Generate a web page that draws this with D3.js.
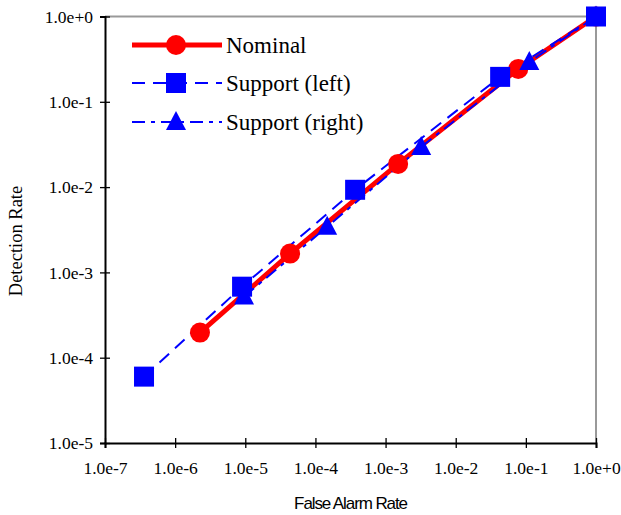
<!DOCTYPE html>
<html>
<head>
<meta charset="utf-8">
<script src="https://cdn.jsdelivr.net/npm/d3@7"></script>
<style>
  body { margin: 0; background: #fff; }
  svg { display: block; }
</style>
</head>
<body>
<svg id="chart" width="621" height="515"></svg>
<script>
// values (false alarm rate, detection rate)
const nominalX = [2.26e-6, 4.35e-5, 1.51e-3, 7.8e-2, 1];
const nominalY = [1.97e-4, 1.66e-3, 1.87e-2, 0.243, 1];
const leftX = [3.6e-7, 9.0e-6, 3.68e-4, 4.3e-2, 1];
const leftY = [6.0e-5, 6.8e-4, 9.3e-3, 0.196, 1];
const rightX = [9.6e-6, 1.47e-4, 3.22e-3, 0.112, 1];
const rightY = [5.2e-4, 3.43e-3, 2.96e-2, 0.293, 1];
const xTicks = [1e-7, 1e-6, 1e-5, 1e-4, 1e-3, 1e-2, 1e-1, 1];
const yTicks = [1e-5, 1e-4, 1e-3, 1e-2, 1e-1, 1];
const seriesNames = ["Nominal", "Support (left)", "Support (right)"];

let svg = d3.select("#chart");
let L = 105, R = 596, T = 16.5, B = 443;
let serif = "'Liberation Serif', 'Times New Roman', serif";

let x = d3.scaleLog().domain([1e-7, 1]).range([L, R]);
let y = d3.scaleLog().domain([1e-5, 1]).range([B, T]);
let fmt = d3.format(".1e");

let zip = (xs, ys) => xs.map((v, i) => [v, ys[i]]);
let series = [
  { name: seriesNames[0], pts: zip(nominalX, nominalY), color: "#ff0000", width: 5, dash: null, mark: "circle" },
  { name: seriesNames[1], pts: zip(leftX, leftY), color: "#0000ff", width: 2, dash: "13,8", mark: "square" },
  { name: seriesNames[2], pts: zip(rightX, rightY), color: "#0000ff", width: 2, dash: "13,6,4,6", mark: "triangle" }
];

// gray top/right frame
svg.append("path")
  .attr("d", `M${L},${T}H${R}V${B}`)
  .attr("fill", "none")
  .attr("stroke", "#999")
  .attr("stroke-width", 2);

let xAxis = svg.append("g")
  .attr("transform", `translate(0,${B})`)
  .call(d3.axisBottom(x).tickValues(xTicks).tickFormat(fmt).tickSize(5));
let yAxis = svg.append("g")
  .attr("transform", `translate(${L},0)`)
  .call(d3.axisLeft(y).tickValues(yTicks).tickFormat(fmt).tickSize(5));

[xAxis, yAxis].forEach(g => {
  g.select(".domain").attr("stroke", "#000").attr("stroke-width", 2);
  g.selectAll(".tick line").attr("stroke", "#000").attr("stroke-width", 1.3);
  g.selectAll(".tick text")
    .style("font-family", serif)
    .style("font-size", "17.5px")
    .attr("fill", "#000");
});
xAxis.selectAll(".tick line").attr("y1", -5).attr("y2", 5);
xAxis.selectAll(".tick text").attr("y", 31).attr("dy", 0);
yAxis.selectAll(".tick line").attr("x1", -5).attr("x2", 5);
yAxis.selectAll(".tick text").attr("x", -12).attr("dy", "0.33em");

// axis titles
svg.append("text")
  .attr("x", (L + R) / 2)
  .attr("y", 509)
  .attr("text-anchor", "middle")
  .style("font-family", "'Liberation Sans', Arial, sans-serif")
  .style("font-size", "17px")
  .attr("letter-spacing", -1.1)
  .text("False Alarm Rate");
svg.append("text")
  .attr("transform", "translate(22,241) rotate(-90)")
  .attr("text-anchor", "middle")
  .style("font-family", serif)
  .style("font-size", "18.5px")
  .text("Detection Rate");

let line = d3.line().x(d => x(d[0])).y(d => y(d[1]));

let drawMark = (g, kind, color) => {
  if (kind === "circle") {
    g.append("circle").attr("r", 10).attr("fill", color);
  } else if (kind === "square") {
    g.append("rect").attr("x", -10).attr("y", -10).attr("width", 20).attr("height", 20).attr("fill", color);
  } else {
    g.append("path").attr("d", "M0,-11L10,8L-10,8Z").attr("fill", color);
  }
};

series.forEach(s => {
  svg.append("path")
    .datum(s.pts)
    .attr("d", line)
    .attr("fill", "none")
    .attr("stroke", s.color)
    .attr("stroke-width", s.width)
    .attr("stroke-dasharray", s.dash);
});
series.forEach(s => {
  svg.selectAll(null)
    .data(s.pts)
    .enter()
    .append("g")
    .attr("transform", d => `translate(${x(d[0])},${y(d[1])})`)
    .each(function () { drawMark(d3.select(this), s.mark, s.color); });
});

// legend
let legY = [45, 83, 122];
series.forEach((s, i) => {
  let g = svg.append("g").attr("transform", `translate(0,${legY[i]})`);
  g.append("line")
    .attr("x1", 132).attr("x2", 222)
    .attr("stroke", s.color)
    .attr("stroke-width", s.width)
    .attr("stroke-dasharray", s.dash);
  drawMark(g.append("g").attr("transform", "translate(176,0)"), s.mark, s.color);
  g.append("text")
    .attr("x", 226)
    .attr("y", 8)
    .style("font-family", serif)
    .style("font-size", "23px")
    .text(s.name);
});
</script>
</body>
</html>
